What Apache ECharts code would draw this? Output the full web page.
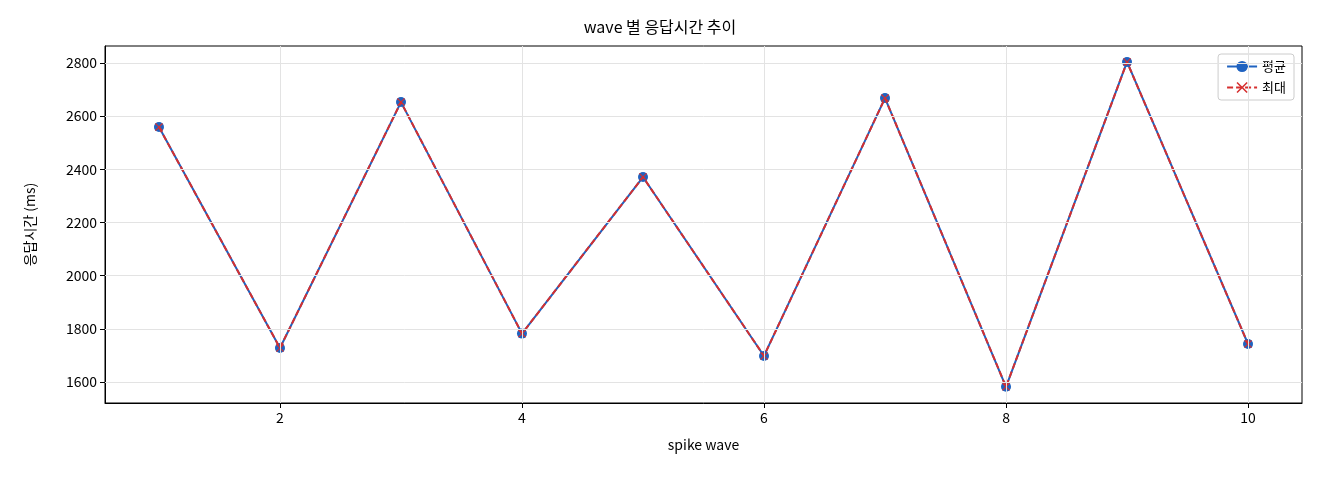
<!DOCTYPE html><html><head><meta charset="utf-8">
<script src="https://cdn.jsdelivr.net/npm/echarts@6/dist/echarts.min.js"></script>
<style>body{margin:0}#c{width:1320px;height:480px}</style></head><body><div id="c"></div>
<script>
const waves=[1,2,3,4,5,6,7,8,9,10];
const avgVals=[2559,1728,2653,1782,2371,1698,2668,1582,2804,1743];
const maxVals=[2559,1728,2653,1782,2371,1698,2668,1582,2804,1743];
const xTicks=[2,4,6,8,10];
const yTicks=[1600,1800,2000,2200,2400,2600,2800];
const F='"Noto Sans CJK KR", "DejaVu Sans", sans-serif';
const XP='path://M0,1L1,0L5,4L9,0L10,1L6,5L10,9L9,10L5,6L1,10L0,9L4,5Z';
const ch=echarts.init(document.getElementById('c'));
ch.setOption({
 animation:false,
 title:{text:'wave 별 응답시간 추이',left:'center',top:14,textStyle:{fontFamily:F,fontSize:16,fontWeight:'normal',color:'#000'}},
 legend:{right:26,top:54,orient:'vertical',itemGap:8,backgroundColor:'#fff',borderColor:'#ccc',borderWidth:1,borderRadius:3,padding:[6,8],
  textStyle:{fontFamily:F,fontSize:13,color:'#000'},itemWidth:30,data:['평균','최대']},
 grid:{left:105,right:18,top:46,bottom:77,show:true,borderColor:'#000',borderWidth:1},
 xAxis:{type:'value',min:0.554,max:10.446,name:'spike wave',nameLocation:'middle',nameGap:35,
  nameTextStyle:{fontFamily:F,fontSize:14,color:'#000'},
  axisLine:{lineStyle:{color:'#000'}},axisTick:{show:true,customValues:xTicks,lineStyle:{color:'#000'}},
  axisLabel:{customValues:xTicks,formatter:v=>String(v),fontFamily:F,fontSize:14,color:'#000'},
  splitLine:{show:false}},
 yAxis:{type:'value',min:1521,max:2864,name:'응답시간 (ms)',nameLocation:'middle',nameGap:68,
  nameTextStyle:{fontFamily:F,fontSize:14,color:'#000'},
  axisLine:{show:true,lineStyle:{color:'#000'}},axisTick:{show:true,customValues:yTicks,lineStyle:{color:'#000'}},
  axisLabel:{customValues:yTicks,formatter:v=>String(v),fontFamily:F,fontSize:14,color:'#000'},
  splitLine:{show:false}},
 series:[
  {name:'평균',type:'line',data:waves.map((w,i)=>[w,avgVals[i]]),color:'#1f62c0',symbol:'circle',symbolSize:10,lineStyle:{width:2},
   markLine:{silent:true,symbol:'none',label:{show:false},lineStyle:{color:'#e3e3e3',type:'solid',width:1},
    data:xTicks.map(v=>({xAxis:v})).concat(yTicks.map(v=>({yAxis:v})))},z:3},
  {name:'최대',type:'line',data:waves.map((w,i)=>[w,maxVals[i]]),color:'#d62f2f',symbol:XP,symbolSize:8,
   lineStyle:{width:2,type:[6,3]},z:4}
 ]
});
</script></body></html>
